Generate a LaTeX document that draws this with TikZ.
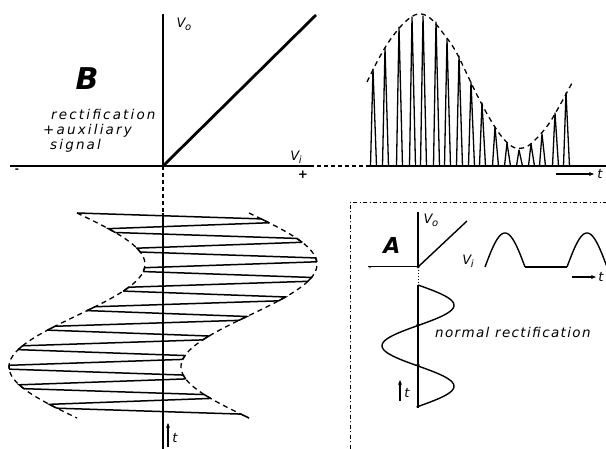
\documentclass[tikz,border=0pt]{standalone}
\usepackage{fontspec}
\setmainfont{DejaVu Sans}
\newfontfamily\lblfont[LetterSpace=10]{DejaVu Sans}
\newfontfamily\lblfontB[LetterSpace=16]{DejaVu Sans}
\usetikzlibrary{arrows.meta}
\tikzset{
  lbl/.style={inner sep=0pt, font=\lblfont\itshape\fontsize{13.5}{15}\selectfont},
  lblB/.style={inner sep=0pt, font=\lblfontB\itshape\fontsize{13.5}{15}\selectfont},
  sublbl/.style={inner sep=0pt, font=\itshape\fontsize{13}{15}\selectfont},
  bigB/.style={inner sep=0pt, font=\bfseries\itshape\fontsize{30}{32}\selectfont},
  env/.style={line width=1.3pt, dash pattern=on 5pt off 4pt},
  spike/.style={line width=1.3pt, line join=round},
  zig/.style={line width=1.5pt, line join=miter},
  tarrow/.style={line width=1.4pt, -{Stealth[length=5pt,width=4pt]}},
  boxline/.style={line width=0.9pt, dash pattern=on 4pt off 2.5pt on 1pt off 2.5pt},
}
\newcommand{\Vsub}[2]{#1\kern-0.5pt\raisebox{-3pt}{\fontsize{10}{11}\selectfont #2}}
\begin{document}
\begin{tikzpicture}[x=1pt,y=-1pt]
\clip (0,0) rectangle (606,449);
\fill[white] (0,0) rectangle (606,449);

% ---------- main B transfer characteristic ----------
\coordinate (O) at (163,166);
\coordinate (vtop) at (163,14);
\coordinate (hleft) at (10,166);
\coordinate (hmid) at (310,166);
\coordinate (hdash) at (368,166);
\coordinate (hright) at (606,166);
\coordinate (diag) at (316,15);
\draw[line width=2pt] (vtop) -- (O);
\draw[line width=2.6pt] (hleft) -- (O);
\draw[line width=1.3pt] (O) -- (hmid);
\draw[line width=1.1pt, dash pattern=on 4pt off 3pt] (hmid) -- (hdash);
\draw[line width=1.3pt] (hdash) -- (hright);
\draw[line width=2.8pt] (O) -- (diag);

\node[sublbl] (vo) at (184,24) {\Vsub{V}{o}};
\node[sublbl] (vi) at (296,157) {\Vsub{V}{i}};
\node[inner sep=0pt, font=\bfseries\fontsize{12}{12}\selectfont] (plus) at (303,175) {+};
\node[inner sep=0pt, font=\bfseries\fontsize{10}{12}\selectfont] (minus) at (17,171) {-};
\node[bigB] (B) at (87,79) {B};
\node[lblB, anchor=base west] (t1) at (51,120) {rectification};
\node[lblB, anchor=base west] (t2) at (43,135) {+auxiliary};
\node[lblB, anchor=base west] (t3) at (50,150) {signal};

% ---------- output: rectified pulses ----------
\draw[env] plot[smooth, tension=0.6] coordinates {(367,82) (378,60) (390,40) (405,22) (418,14) (430,18) (443,33) (455,50) (465,70) (477,95) (490,119) (502,137) (513,147) (523,148) (533,142) (548,125) (560,105) (572,83)};
\foreach \xc/\h in {373/69,385/48,399/27,412/17,423/16,436/22,447/39,459/56,471/82,482/103,495/127,507/143,519/150,531/144,542/134,555/113,566/93}{
  \draw[spike] (\xc-2.5,166) -- (\xc,\h) -- (\xc+3.5,166);
}
\coordinate (ta1) at (556,174);
\coordinate (ta2) at (594,174);
\draw[tarrow] (ta1) -- (ta2);
\node[sublbl] (tlab) at (600,174) {t};

% ---------- input: sine + auxiliary triangle ----------
\coordinate (Ob) at (163,213);
\coordinate (bot) at (163,449);
\draw[line width=1.1pt, dash pattern=on 4pt off 3pt] (O) -- (Ob);
\draw[line width=2pt] (Ob) -- (bot);
\draw[env, domain=0:205, samples=80, variable=\t] plot ({163+68*sin(1.7561*\t)+86}, {213+\t});
\draw[env, domain=0:205, samples=80, variable=\t] plot ({163+68*sin(1.7561*\t)-86}, {213+\t});
\foreach \i in {0,...,20}{
  \pgfmathsetmacro{\ta}{\i*9.76}
  \pgfmathsetmacro{\tm}{\ta+5.9}
  \pgfmathsetmacro{\tb}{\ta+9.76}
  \pgfmathsetmacro{\sa}{ifthenelse(mod(\i,2)==0,-1,1)}
  \pgfmathsetmacro{\xa}{163+68*sin(1.7561*\ta)+\sa*86}
  \pgfmathsetmacro{\xm}{163+68*sin(1.7561*\tm)-\sa*86}
  \pgfmathsetmacro{\xb}{163+68*sin(1.7561*\tb)-\sa*86}
  \draw[zig] (\xa,213+\ta) -- (\xm,213+\tm) -- (\xb,213+\tb);
}
\coordinate (tb1) at (168,447);
\coordinate (tb2) at (168,423);
\draw[tarrow] (tb1) -- (tb2);
\node[sublbl] (tlb) at (175,438) {t};

% ---------- inset A ----------
\coordinate (bx1) at (350,449);
\coordinate (bx2) at (350,202);
\coordinate (bx3) at (606,202);
\draw[boxline] (bx1) -- (bx2) -- (bx3);

\coordinate (OA) at (418,267);
\coordinate (Al) at (368,267);
\coordinate (At) at (418,212);
\coordinate (Ad) at (467,221);
\coordinate (Ab) at (418,285);
\draw[line width=1pt] (Al) -- (OA);
\draw[line width=1.3pt] (OA) -- (At);
\draw[line width=1.4pt] (OA) -- (Ad);
\draw[line width=1pt, dotted] (OA) -- (Ab);
\fill (OA) circle (1.5pt);
\node[inner sep=0pt, font=\bfseries\itshape\fontsize{22}{24}\selectfont] (A) at (392,245) {A};
\node[sublbl] (voA) at (431,220) {\Vsub{V}{o}};
\node[sublbl] (viA) at (468,261) {\Vsub{V}{i}};
\node[inner sep=0pt, font=\fontsize{8}{8}\selectfont] (mA) at (370,269) {-};

% half-wave output
\draw[line width=1.4pt, domain=0:40, samples=40, variable=\t] plot ({485+\t}, {267-34*sin(4.5*\t)});
\draw[line width=1.4pt] (525,267) -- (567,267);
\draw[line width=1.4pt, domain=0:40, samples=40, variable=\t] plot ({567+\t}, {267-34*sin(4.5*\t)});
\coordinate (tc1) at (572,277);
\coordinate (tc2) at (596,277);
\draw[tarrow] (tc1) -- (tc2);
\node[sublbl] (tlc) at (601,277) {t};

% input sine vertical
\coordinate (As) at (418,408);
\draw[line width=1.4pt] (Ab) -- (As);
\draw[line width=1.4pt, domain=0:122, samples=80, variable=\t] plot ({418+36*sin(4.4444*\t)}, {285+\t});
\fill (418,325) circle (1.8pt);
\fill (418,365) circle (1.8pt);
\coordinate (td1) at (400,401);
\coordinate (td2) at (400,380);
\draw[tarrow] (td1) -- (td2);
\node[sublbl] (tld) at (407,393) {t};
\node[lbl, anchor=base west] (nr) at (435,338) {normal rectification};
\end{tikzpicture}
\end{document}
